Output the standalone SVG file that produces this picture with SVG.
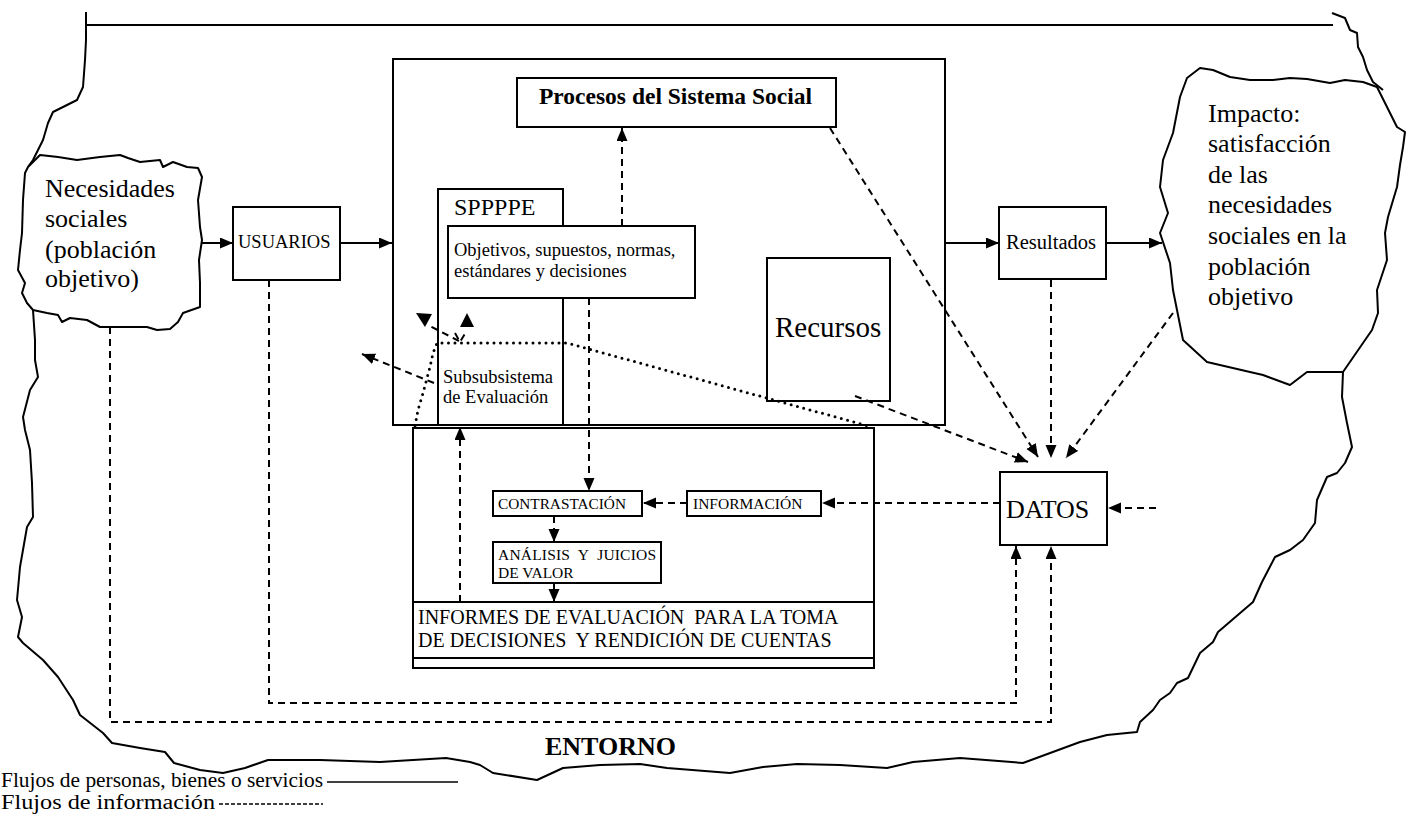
<svg xmlns="http://www.w3.org/2000/svg" width="1410" height="816" viewBox="0 0 1410 816">
  <style>
    .box { fill: #fff; stroke: #000; stroke-width: 2; }
    .line { fill: none; stroke: #000; stroke-width: 2; stroke-linejoin: round; }
    .blob { fill: #fff; stroke: #000; stroke-width: 2; stroke-linejoin: round; }
    .dash { fill: none; stroke: #000; stroke-width: 2; stroke-dasharray: 7 5; }
    .dot { fill: none; stroke: #000; stroke-width: 3; stroke-dasharray: 0 6.5; stroke-linecap: round; stroke-linejoin: round; }
    .head { fill: #000; stroke: none; }
    .t { font-family: "Liberation Serif", "Times New Roman", serif; fill: #000; }
    .b { font-weight: bold; }
  </style>
  <defs>
    <marker id="ah" markerUnits="userSpaceOnUse" markerWidth="14" markerHeight="12" refX="13" refY="5.5" orient="auto">
      <path d="M0,0 L13,5.5 L0,11 Z" fill="#000"/>
    </marker>
  </defs>

  <rect width="1410" height="816" fill="#fff"/>

  <!-- Environment boundary -->
  <g id="entorno">
    <path class="line" d="M86,25 L1333,25"/>
    <path class="line" d="M86,12 L86,40 L85,60 L83,87 L77,100 L63,107 L53,112 L48,123 L43,140 L33,160 L28,167"/>
    <path class="line" d="M33,310 L35,340 L35,360 L38,377 L30,390 L23,417 L25,430 L30,450 L32,483 L33,517 L27,527 L20,567 L17,600 L22,617 L18,637 L23,643 L43,660 L58,677 L73,700 L80,715 L103,733 L112,743 L140,748 L165,752 L174,763 L200,770 L223,773 L245,768 L268,760 L320,760 L380,762 L446,758 L470,762 L480,765 L493,773 L537,780 L563,768 L600,765 L640,764 L667,768 L730,773 L763,767 L797,764 L840,765 L887,768 L913,762 L960,758 L1023,763 L1080,742 L1107,735 L1137,732 L1140,722 L1153,710 L1160,700 L1170,693 L1177,683 L1188,678 L1200,653 L1213,642 L1218,632 L1253,602 L1262,582 L1275,557 L1290,550 L1303,540 L1315,523 L1317,500 L1327,477 L1337,473 L1345,463 L1352,447 L1347,423 L1342,397 L1343,372"/>
    <path class="line" d="M1332,13 L1345,18 L1350,30 L1357,33 L1358,47 L1363,57 L1367,70 L1373,82 L1383,90"/>
    <text class="t b" x="545" y="755" font-size="26">ENTORNO</text>
  </g>

  <!-- Social needs -->
  <g id="necesidades">
    <path class="blob" d="M28,167 L40,155 L58,157 L77,160 L100,157 L120,155 L128,158 L140,162 L160,160 L163,167 L173,162 L187,167 L198,168 L202,177 L198,200 L200,227 L202,240 L199,260 L200,283 L200,307 L183,313 L178,322 L170,329 L157,330 L147,327 L100,327 L87,320 L70,318 L62,322 L58,315 L47,313 L33,310 L27,303 L22,293 L25,283 L18,270 L20,250 L22,233 L23,200 L25,173 Z"/>
    <text class="t" font-size="26">
      <tspan x="45" y="197">Necesidades</tspan>
      <tspan x="45" y="227">sociales</tspan>
      <tspan x="45" y="258">(población</tspan>
      <tspan x="45" y="287">objetivo)</tspan>
    </text>
  </g>

  <!-- Impact -->
  <g id="impacto">
    <path class="blob" d="M1187,78 L1200,68 L1213,70 L1230,77 L1250,80 L1273,80 L1290,78 L1307,79 L1330,83 L1345,80 L1363,82 L1377,87 L1387,107 L1397,127 L1405,132 L1403,147 L1400,165 L1397,187 L1388,217 L1385,233 L1387,260 L1377,290 L1378,313 L1372,330 L1363,343 L1343,372 L1307,372 L1290,385 L1263,375 L1250,372 L1207,362 L1183,340 L1177,310 L1173,290 L1170,263 L1160,233 L1168,213 L1160,187 L1163,160 L1173,133 L1180,97 Z"/>
    <text class="t" font-size="26">
      <tspan x="1208" y="122">Impacto:</tspan>
      <tspan x="1208" y="152">satisfacción</tspan>
      <tspan x="1208" y="183">de las</tspan>
      <tspan x="1208" y="213">necesidades</tspan>
      <tspan x="1208" y="244">sociales en la</tspan>
      <tspan x="1208" y="275">población</tspan>
      <tspan x="1208" y="305">objetivo</tspan>
    </text>
  </g>

  <g id="usuarios">
    <rect class="box" x="233" y="207" width="107" height="73"/>
    <text class="t" x="238" y="248" font-size="18.5">USUARIOS</text>
  </g>

  <!-- Social system -->
  <g id="sistema">
    <rect class="box" x="393" y="59" width="552" height="366"/>
  </g>

  <g id="procesos">
    <rect class="box" x="517" y="78" width="319" height="49"/>
    <text class="t b" x="539" y="104" font-size="23.5">Procesos del Sistema Social</text>
  </g>

  <g id="spppe">
    <rect class="box" x="438" y="189" width="125" height="236"/>
    <text class="t" x="454" y="215" font-size="24">SPPPPE</text>
    <text class="t" font-size="18.5">
      <tspan x="443" y="383">Subsubsistema</tspan>
      <tspan x="443" y="403">de Evaluación</tspan>
    </text>
  </g>

  <g id="objetivos">
    <rect class="box" x="448" y="226" width="247" height="72"/>
    <text class="t" font-size="18.5">
      <tspan x="454" y="256">Objetivos, supuestos, normas,</tspan>
      <tspan x="454" y="277">estándares y decisiones</tspan>
    </text>
  </g>

  <g id="recursos">
    <rect class="box" x="767" y="258" width="123" height="143"/>
    <text class="t" x="775" y="337" font-size="29">Recursos</text>
  </g>

  <g id="resultados">
    <rect class="box" x="999" y="207" width="107" height="72"/>
    <text class="t" x="1006" y="249" font-size="20.5">Resultados</text>
  </g>

  <g id="datos">
    <rect class="box" x="1000" y="472" width="107" height="73"/>
    <text class="t" x="1006" y="518" font-size="26">DATOS</text>
  </g>

  <!-- Evaluation process -->
  <g id="evaluacion">
    <rect class="box" x="413" y="428" width="461" height="240"/>
    <path class="line" d="M413,602 L874,602 M413,658 L874,658"/>
  </g>

  <g id="contrastacion">
    <rect class="box" x="493" y="491" width="149" height="25"/>
    <text class="t" x="498" y="509" font-size="15.3">CONTRASTACIÓN</text>
  </g>

  <g id="informacion">
    <rect class="box" x="687" y="491" width="134" height="25"/>
    <text class="t" x="693" y="509" font-size="15.5">INFORMACIÓN</text>
  </g>

  <g id="analisis">
    <rect class="box" x="493" y="542" width="168" height="41"/>
    <text class="t" font-size="15.5">
      <tspan x="498" y="560" textLength="158">ANÁLISIS&#160; Y&#160; JUICIOS</tspan>
      <tspan x="498" y="578">DE VALOR</tspan>
    </text>
  </g>

  <g id="informes">
    <text class="t" font-size="20">
      <tspan x="418" y="624">INFORMES DE EVALUACIÓN&#160; PARA LA TOMA</tspan>
      <tspan x="418" y="647">DE DECISIONES&#160; Y RENDICIÓN DE CUENTAS</tspan>
    </text>
  </g>

  <!-- Connectors -->
  <g id="connectors">
    <!-- flows of people, goods or services -->
    <path class="line" marker-end="url(#ah)" d="M201,243 L233,243"/>
    <path class="line" marker-end="url(#ah)" d="M340,243 L392,243"/>
    <path class="line" marker-end="url(#ah)" d="M945,243 L999,243"/>
    <path class="line" marker-end="url(#ah)" d="M1106,243 L1162,243"/>

    <!-- information flows -->
    <path class="dash" marker-end="url(#ah)" d="M622,226 L622,128"/>
    <path class="dash" marker-end="url(#ah)" d="M589,298 L589,491"/>
    <path class="dash" marker-end="url(#ah)" d="M554,516 L554,542"/>
    <path class="dash" marker-end="url(#ah)" d="M554,583 L554,602"/>
    <path class="dash" marker-end="url(#ah)" d="M460,602 L460,427"/>
    <path class="dash" marker-end="url(#ah)" d="M687,503 L643,503"/>
    <path class="dash" marker-end="url(#ah)" d="M1000,503 L822,503"/>
    <path class="dash" marker-end="url(#ah)" d="M1156,508 L1108,508"/>
    <path class="dash" marker-end="url(#ah)" d="M830,128 L1038,457"/>
    <path class="dash" marker-end="url(#ah)" d="M1051,280 L1051,458"/>
    <path class="dash" marker-end="url(#ah)" d="M1173,313 L1066,458"/>
    <path class="dash" marker-end="url(#ah)" d="M855,396 L1028,462"/>
    <path class="dash" marker-end="url(#ah)" d="M269,280 L269,703 L1016,703 L1016,546"/>
    <path class="dash" marker-end="url(#ah)" d="M110,327 L110,722 L1051,722 L1051,546"/>
    <path class="dash" marker-end="url(#ah)" d="M434,383 L362,354"/>
    <path class="dash" d="M459,341 L428,325"/>
    <path class="head" d="M416,313 L432,314 L425,327 Z"/>
    <path class="dash" d="M455,333 L460,342 L466,332"/>
    <path class="head" d="M460,327 L474,327 L467,313 Z"/>

    <!-- dotted outline of the evaluation subsystem -->
    <path class="dot" d="M415,426 L418,410 L423,393 L430,367 L433,353 L437,343 L567,343 L872,427"/>
  </g>

  <!-- Legend -->
  <g id="leyenda">
    <text class="t" x="1" y="787" font-size="20" textLength="322" lengthAdjust="spacingAndGlyphs">Flujos de personas, bienes o servicios</text>
    <path class="line" style="stroke-width:1.5" d="M327,782 L458,782"/>
    <text class="t" x="1" y="809" font-size="20" textLength="214" lengthAdjust="spacingAndGlyphs">Flujos de información</text>
    <path class="line" style="stroke-width:1.5;stroke-dasharray:4 2" d="M219,804 L323,804"/>
  </g>
</svg>
